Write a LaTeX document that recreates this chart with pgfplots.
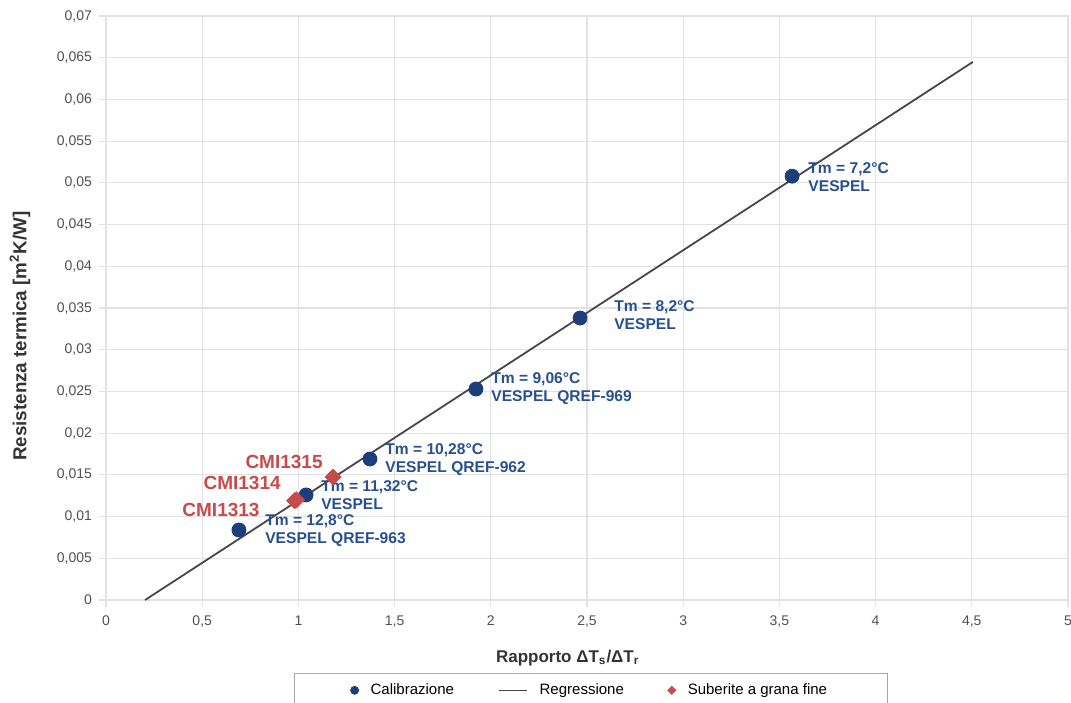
\documentclass[border=0pt]{standalone}
\usepackage{pgfplots}
\pgfplotsset{compat=1.18}
\usepackage{fontspec}
\setmainfont{Liberation Sans}
\definecolor{navy}{RGB}{28,62,122}
\definecolor{lblue}{RGB}{40,80,145}
\definecolor{cred}{RGB}{200,75,75}
\definecolor{gridc}{RGB}{226,226,226}
\definecolor{tickc}{RGB}{80,80,80}
\begin{document}
\begin{tikzpicture}
\path[use as bounding box] (-53pt,-51pt) rectangle (482.5pt,300pt);
\begin{axis}[
  scale only axis, width=481pt, height=292pt,
  xmin=0, xmax=5, ymin=0, ymax=0.07,
  xtick={0,0.5,1,1.5,2,2.5,3,3.5,4,4.5,5},
  ytick={0,0.005,0.01,0.015,0.02,0.025,0.03,0.035,0.04,0.045,0.05,0.055,0.06,0.065,0.07},
  scaled y ticks=false, scaled x ticks=false,
  grid=major, major grid style={gridc, line width=0.6pt},
  axis line style={gridc, line width=0.8pt},
  tick style={gridc, line width=0.6pt}, tick align=outside, major tick length=3.5pt,
  xtick pos=bottom, ytick pos=left,
  /pgf/number format/.cd, fixed, use comma, 1000 sep={}, assume math mode=true,
  /pgfplots/.cd,
  yticklabel style={/pgf/number format/fixed, /pgf/number format/precision=3, font=\fontsize{7}{8}\selectfont, text=tickc},
  xticklabel style={/pgf/number format/fixed, font=\fontsize{7}{8}\selectfont, text=tickc, yshift=-1pt},
  xlabel={Rapporto ΔT\textsubscript{s}/ΔT\textsubscript{r}},
  ylabel={Resistenza termica [m\textsuperscript{2}K/W]},
  label style={font=\fontsize{8.5}{10}\selectfont\bfseries, text=black!80},
  xlabel style={at={(axis description cs:0.48,-0.099)}, anchor=center},
  ylabel style={at={(axis description cs:-0.0894,0.452)}, anchor=center, font=\fontsize{9.4}{11}\selectfont\bfseries},
  legend columns=3,
  legend style={at={(axis description cs:0.504,-0.125)}, anchor=north,
    draw=black!35, font=\fontsize{7.5}{9}\selectfont, inner xsep=28pt, inner ysep=3pt,
    /tikz/every even column/.append style={column sep=20pt},
    /tikz/every odd column/.append style={column sep=4pt}},
  legend cell align=left,
  clip=false,
]
\addplot[only marks, mark=*, mark size=3.5pt, navy, legend image post style={mark size=2pt}] coordinates {
 (0.691,0.00839) (1.040,0.01259) (1.372,0.01690) (1.923,0.02529) (2.464,0.03380) (3.566,0.05080)
};
\addlegendentry{Calibrazione}
\addplot[black!72, line width=0.9pt, legend image code/.code={\draw[black!72, line width=0.6pt] (0cm,0cm) -- (0.5cm,0cm);}] coordinates {(0.203,0) (4.506,0.0645)};
\addlegendentry{Regressione}
\addplot[only marks, mark=square*, mark size=2.8pt, mark options={rotate=45}, cred, legend image post style={mark size=1.4pt}] coordinates {
 (0.980,0.01190) (0.990,0.01200) (1.180,0.01474)
};
\addlegendentry{Suberite a grana fine}

\begin{scope}[every node/.style={font=\fontsize{7.8}{9}\selectfont\bfseries, text=lblue, align=left, anchor=west, inner sep=0pt}]
\node at (axis cs:3.649,0.0507) {Tm = 7,2°C\\VESPEL};
\node at (axis cs:2.640,0.03416) {Tm = 8,2°C\\VESPEL};
\node at (axis cs:2.001,0.02529) {Tm = 9,06°C\\VESPEL QREF-969};
\node at (axis cs:1.450,0.01684) {Tm = 10,28°C\\VESPEL QREF-962};
\node at (axis cs:1.117,0.01253) {Tm = 11,32°C\\VESPEL};
\node at (axis cs:0.826,0.00833) {Tm = 12,8°C\\VESPEL QREF-963};
\end{scope}
\begin{scope}[every node/.style={font=\fontsize{9.5}{11}\selectfont\bfseries, text=cred, anchor=east, inner sep=0pt}]
\node at (axis cs:1.128,0.01654) {CMI1315};
\node at (axis cs:0.910,0.01402) {CMI1314};
\node at (axis cs:0.800,0.01079) {CMI1313};
\end{scope}
\end{axis}
\end{tikzpicture}
\end{document}
